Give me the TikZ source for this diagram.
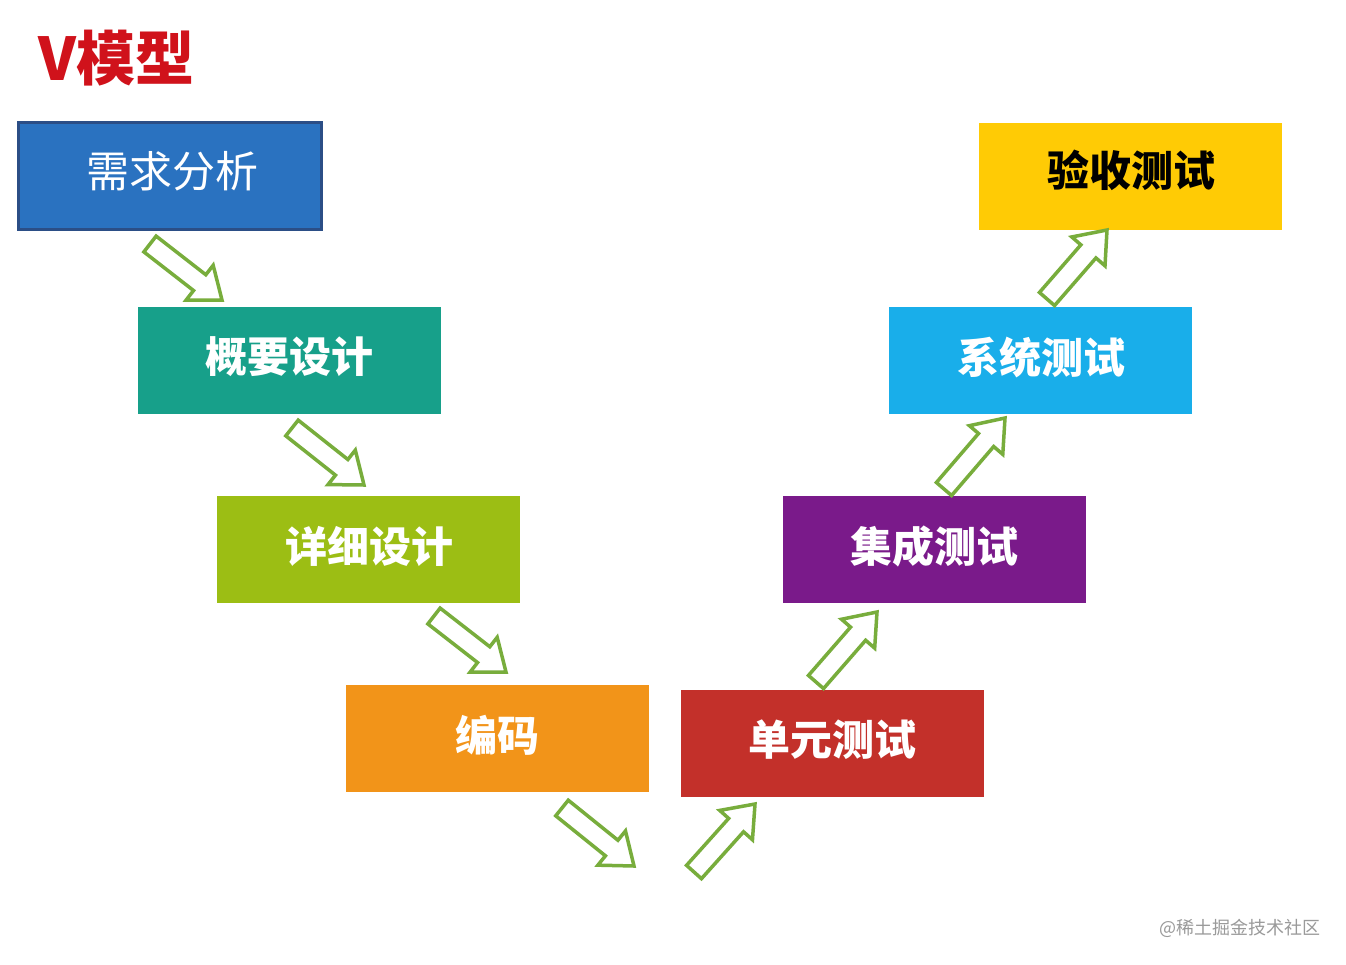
\documentclass[tikz,border=0pt]{standalone}
\usepackage{fontspec}
\newfontfamily\cjk{Noto Sans CJK SC}
\usetikzlibrary{calc}
\definecolor{c1}{HTML}{2A72C0}
\definecolor{c1b}{HTML}{2B4E86}
\definecolor{c2}{HTML}{17A08A}
\definecolor{c3}{HTML}{9CBE14}
\definecolor{c4}{HTML}{F29419}
\definecolor{c5}{HTML}{C3302A}
\definecolor{c6}{HTML}{7A1A8A}
\definecolor{c7}{HTML}{19AEEA}
\definecolor{c8}{HTML}{FFCB05}
\definecolor{arrowgreen}{HTML}{78AD3C}
\definecolor{titlered}{HTML}{D0121B}
\definecolor{wmgray}{HTML}{9A9A9A}
\tikzset{
  stage/.style={minimum width=303pt, minimum height=107pt, inner sep=0pt,
    text=white, font=\cjk\bfseries\fontsize{42}{46}\selectfont},
  label/.style={text=white, font=\cjk\bfseries\fontsize{42}{46}\selectfont},
  garrow/.style={draw=arrowgreen, line width=3.5pt, fill=white, line join=miter},
}
\newcommand\blockarrow[3]{%
  \coordinate (#1t) at (#2);
  \coordinate (#1p) at (#3);
  \coordinate (#1c) at ($(#1t)!0.69!(#1p)$);
  \draw[garrow] ($(#1t)!10pt!90:(#1p)$) -- ($(#1c)!10pt!90:(#1p)$)
    -- ($(#1c)!22pt!90:(#1p)$) -- (#1p) -- ($(#1c)!22pt!-90:(#1p)$)
    -- ($(#1c)!10pt!-90:(#1p)$) -- ($(#1t)!10pt!-90:(#1p)$) -- cycle;
}
\begin{document}
\begin{tikzpicture}[x=1pt,y=-1pt]
\useasboundingbox (0,0) rectangle (1346,964);
\fill[white] (0,0) rectangle (1346,964);

\node[anchor=west, text=titlered, font=\cjk\bfseries\fontsize{59}{62}\selectfont] (title) at (35,58) {V模型};

\node[stage, fill=c1, draw=c1b, line width=2.5pt] (s1) at (170,176) {};
\node[stage, fill=c2] (s2) at (289,360) {};
\node[stage, fill=c3] (s3) at (368,549) {};
\node[stage, fill=c4] (s4) at (497,738) {};
\node[stage, fill=c5] (s5) at (832,743) {};
\node[stage, fill=c6] (s6) at (934,549) {};
\node[stage, fill=c7] (s7) at (1040,360) {};
\node[stage, fill=c8] (s8) at (1130,176) {};

\node[label, font=\cjk\fontsize{43}{46}\selectfont] (t1) at (172,171) {需求分析};
\node[label] (t2) at (289,357) {概要设计};
\node[label] (t3) at (369,546) {详细设计};
\node[label] (t4) at (497,735) {编码};
\node[label] (t5) at (832,740) {单元测试};
\node[label] (t6) at (934,546) {集成测试};
\node[label] (t7) at (1041,357) {系统测试};
\node[label, text=black] (t8) at (1131,170) {验收测试};

\blockarrow{a1}{150,244}{222,300}
\blockarrow{a2}{292,428}{364,485}
\blockarrow{a3}{434,616}{506,672}
\blockarrow{a4}{562,808}{634,866}
\blockarrow{a5}{694,872}{755,804}
\blockarrow{a6}{816,682}{877,612}
\blockarrow{a7}{944,489}{1005,418}
\blockarrow{a8}{1047,299}{1107,230}

\node[text=wmgray, font=\cjk\fontsize{18}{20}\selectfont] (wm) at (1240,928) {@稀土掘金技术社区};
\end{tikzpicture}
\end{document}
